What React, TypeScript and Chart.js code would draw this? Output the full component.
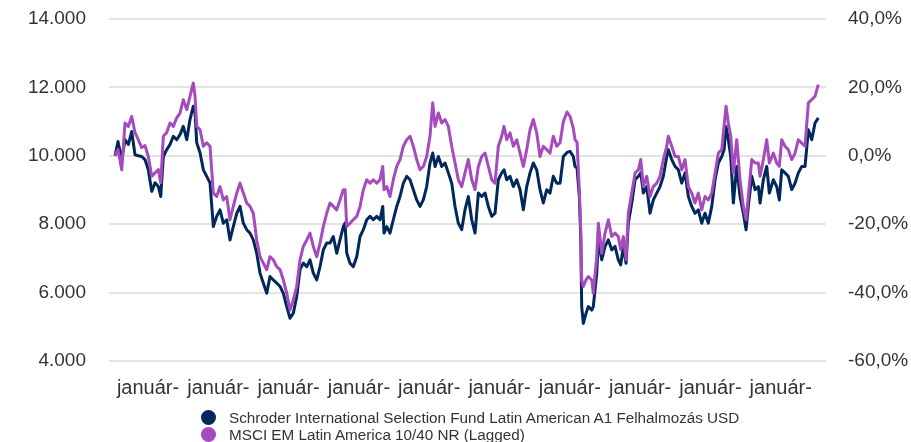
import React, { useEffect, useRef } from 'react';
import { Chart, registerables } from 'chart.js';

Chart.register(...registerables);

// decimal years
const dates = [
  2014.531, 2014.573, 2014.626, 2014.673, 2014.72, 2014.768, 2014.815, 2014.862, 2014.91, 2014.957,
  2015.004, 2015.053, 2015.1, 2015.147, 2015.181, 2015.218, 2015.266, 2015.313, 2015.36, 2015.408,
  2015.455, 2015.502, 2015.551, 2015.597, 2015.644, 2015.669, 2015.693, 2015.74, 2015.787, 2015.835,
  2015.882, 2015.929, 2015.977, 2016.024, 2016.071, 2016.12, 2016.166, 2016.213, 2016.262, 2016.309,
  2016.356, 2016.404, 2016.451, 2016.498, 2016.546, 2016.593, 2016.64, 2016.689, 2016.735, 2016.782,
  2016.831, 2016.878, 2016.925, 2016.973, 2017.02, 2017.067, 2017.115, 2017.162, 2017.209, 2017.258,
  2017.304, 2017.351, 2017.4, 2017.447, 2017.494, 2017.542, 2017.589, 2017.636, 2017.684, 2017.731,
  2017.778, 2017.802, 2017.827, 2017.873, 2017.92, 2017.969, 2018.016, 2018.063, 2018.111, 2018.158,
  2018.205, 2018.253, 2018.3, 2018.339, 2018.357, 2018.396, 2018.442, 2018.489, 2018.538, 2018.585,
  2018.632, 2018.68, 2018.727, 2018.774, 2018.822, 2018.869, 2018.916, 2018.964, 2019.011, 2019.05,
  2019.083, 2019.13, 2019.178, 2019.225, 2019.272, 2019.32, 2019.367, 2019.414, 2019.462, 2019.509,
  2019.556, 2019.605, 2019.652, 2019.699, 2019.747, 2019.794, 2019.841, 2019.889, 2019.936, 2019.983,
  2020.031, 2020.064, 2020.103, 2020.149, 2020.196, 2020.245, 2020.292, 2020.339, 2020.387, 2020.434,
  2020.481, 2020.529, 2020.576, 2020.623, 2020.672, 2020.718, 2020.765, 2020.814, 2020.861, 2020.908,
  2020.96, 2021.003, 2021.05, 2021.074, 2021.103, 2021.135, 2021.155, 2021.169, 2021.192, 2021.231,
  2021.263, 2021.312, 2021.334, 2021.383, 2021.406, 2021.454, 2021.501, 2021.548, 2021.596, 2021.643,
  2021.69, 2021.724, 2021.761, 2021.8, 2021.832, 2021.881, 2021.928, 2021.975, 2022.009, 2022.046,
  2022.094, 2022.141, 2022.188, 2022.236, 2022.283, 2022.33, 2022.379, 2022.401, 2022.45, 2022.497,
  2022.544, 2022.592, 2022.639, 2022.686, 2022.734, 2022.781, 2022.828, 2022.876, 2022.923, 2022.97,
  2023.019, 2023.066, 2023.113, 2023.161, 2023.194, 2023.222, 2023.255, 2023.289, 2023.326, 2023.374,
  2023.421, 2023.468, 2023.507, 2023.539, 2023.588, 2023.635, 2023.682, 2023.706, 2023.753, 2023.801,
  2023.838, 2023.895, 2023.943, 2023.98, 2024.014, 2024.061, 2024.108, 2024.157, 2024.204, 2024.251,
  2024.299, 2024.346, 2024.393, 2024.441, 2024.488, 2024.535,
];

const schroderValues = [
  10000, 10420, 9890, 10470, 10330, 10710, 10030, 10000, 9980, 9890,
  9590, 8960, 9210, 9100, 8810, 9980, 10180, 10330, 10570, 10470,
  10620, 10860, 10470, 11060, 11450, 11250, 10380, 10090, 9590, 9400,
  9210, 7930, 8230, 8420, 8030, 8130, 7540, 7930, 8320, 8520,
  8030, 7840, 7740, 7540, 7150, 6570, 6280, 5980, 6470, 6370,
  6280, 6180, 5980, 5590, 5250, 5400, 5880, 6670, 6860, 6760,
  6960, 6570, 6370, 6760, 7250, 7450, 7450, 7640, 7150, 7540,
  7930, 8030, 7160, 6860, 6760, 7050, 7640, 7840, 8130, 8230,
  8130, 8230, 8130, 8520, 7740, 7930, 7740, 8130, 8520, 8810,
  9200, 9400, 9300, 9010, 8710, 8520, 8710, 9100, 9790, 10080,
  9690, 9980, 9690, 9790, 9500, 9200, 8520, 8030, 7840, 8420,
  8810, 8130, 7740, 8910, 8810, 8910, 8520, 8230, 8320, 9300,
  9500, 9590, 9300, 9400, 9100, 9300, 9010, 8420, 9100, 9500,
  9790, 9590, 9010, 8620, 9010, 8910, 9400, 9200, 9200, 9980,
  10100, 10130, 9980, 9690, 9640, 8810, 7640, 5590, 5100, 5400,
  5590, 5490, 5590, 6570, 7540, 6960, 7350, 7540, 7250, 7350,
  6960, 6810, 7350, 6860, 8030, 8620, 9300, 9400, 9500, 8910,
  9100, 8320, 8710, 8910, 9100, 9400, 9980, 10180, 9890, 9690,
  9590, 9200, 9500, 8810, 8520, 8320, 8420, 8030, 8320, 8030,
  8520, 9300, 9790, 9980, 10180, 10860, 10470, 9980, 8620, 9690,
  8810, 8320, 7840, 8520, 9400, 9010, 9100, 8620, 9300, 9690,
  8910, 9300, 9100, 8710, 9590, 9500, 9400, 9010, 9200, 9500,
  9690, 9690, 10760, 10470, 10960, 11110,
];

const msciValues = [
  10000, 10180, 9590, 10960, 10860, 11150, 10680, 10470, 10240, 10300,
  9980, 9400, 9500, 9600, 9210, 10570, 10680, 10960, 10860, 11110,
  11250, 11640, 11350, 11740, 12130, 11740, 10860, 10760, 10280, 10380,
  10280, 8910, 8810, 9100, 8710, 8810, 8130, 8520, 8910, 9200,
  8910, 8620, 8520, 8320, 7540, 7050, 6860, 6670, 7050, 6960,
  6760, 6670, 6370, 5980, 5490, 5790, 6180, 6960, 7350, 7540,
  7740, 7350, 7050, 7450, 7930, 8320, 8620, 8520, 8420, 8710,
  9010, 9010, 7930, 8030, 8130, 8230, 8520, 9010, 9300, 9200,
  9300, 9200, 9300, 9690, 9010, 9100, 8810, 9300, 9690, 9890,
  10280, 10470, 10570, 10280, 9890, 9590, 9690, 9980, 10570, 11550,
  10860, 11250, 10960, 11060, 10860, 10280, 9790, 9300, 9100, 9500,
  9890, 9300, 9010, 9690, 9980, 10080, 9690, 9300, 9200, 10280,
  10570, 10860, 10470, 10670, 10280, 10470, 10080, 9690, 10180, 10760,
  11060, 10670, 9980, 10280, 10180, 10080, 10570, 10280, 10380, 11000,
  11280, 11150, 10800, 10470, 10400, 9010, 7840, 6370, 6180, 6370,
  6470, 6370, 5980, 7050, 8030, 7150, 7740, 8130, 7640, 7740,
  7640, 7250, 7640, 6960, 8320, 8910, 9500, 9590, 9890, 9100,
  9400, 8810, 9100, 9200, 9400, 9890, 10280, 10570, 10280, 9980,
  9980, 9590, 9890, 9100, 8910, 8620, 8910, 8420, 8810, 8710,
  8910, 9500, 10080, 10180, 10860, 11450, 10960, 10570, 9500, 10470,
  9300, 8520, 8130, 8810, 9890, 9790, 9790, 9400, 9890, 10470,
  9790, 10080, 9790, 9690, 10470, 10280, 10180, 9890, 10080, 10470,
  10370, 10280, 11550, 11640, 11740, 12080,
];

const yearTicks = [2015, 2016, 2017, 2018, 2019, 2020, 2021, 2022, 2023, 2024];
const xTickLabel = 'január-';
const seriesNames = [
  'Schroder International Selection Fund Latin American A1 Felhalmozás USD',
  'MSCI EM Latin America 10/40 NR (Lagged)',
];
const seriesColors = ['#00285a', '#a54bbd'];

const FONT = '"Liberation Sans", Arial, Helvetica, sans-serif';
const TEXT = '#333333';

function fmtThousands(v: number) {
  return String(Math.round(v)).replace(/\B(?=(\d{3})+(?!\d))/g, '.');
}

export default function App() {
  const ref = useRef<HTMLCanvasElement | null>(null);

  useEffect(() => {
    if (!ref.current) return;
    const chart = new Chart(ref.current, {
      type: 'line',
      data: {
        datasets: [
          {
            label: seriesNames[0],
            data: dates.map((d, i) => ({ x: d, y: schroderValues[i] })),
            borderColor: seriesColors[0],
            backgroundColor: seriesColors[0],
            borderWidth: 3,
            pointRadius: 0,
            tension: 0,
            borderJoinStyle: 'round',
            order: 1,
            yAxisID: 'y',
          },
          {
            label: seriesNames[1],
            data: dates.map((d, i) => ({ x: d, y: msciValues[i] })),
            borderColor: seriesColors[1],
            backgroundColor: seriesColors[1],
            borderWidth: 3,
            pointRadius: 0,
            tension: 0,
            borderJoinStyle: 'round',
            order: 0,
            yAxisID: 'y',
          },
        ],
      },
      options: {
        animation: false,
        responsive: true,
        maintainAspectRatio: false,
        layout: { padding: { top: 19, left: 0, right: 0, bottom: 0 } },
        plugins: {
          legend: { display: false },
          tooltip: { enabled: false },
        },
        scales: {
          x: {
            type: 'linear',
            min: 2014.445,
            max: 2024.644,
            grid: { display: false },
            border: { display: false },
            afterBuildTicks: (scale: any) => {
              scale.ticks = yearTicks.map((v) => ({ value: v }));
            },
            afterFit: (scale: any) => {
              scale.height = 81;
              scale.paddingLeft = 0;
              scale.paddingRight = 0;
            },
            ticks: {
              autoSkip: false,
              maxRotation: 0,
              padding: 7,
              color: TEXT,
              font: { family: FONT, size: 20 },
              callback: () => xTickLabel,
            },
          },
          y: {
            position: 'left',
            min: 4000,
            max: 14000,
            grid: { color: '#e3e3e3', lineWidth: 2, drawTicks: false },
            border: { display: false },
            afterFit: (scale: any) => {
              scale.width = 109;
              scale.paddingTop = 0;
              scale.paddingBottom = 0;
            },
            ticks: {
              stepSize: 2000,
              padding: 23,
              color: TEXT,
              font: { family: FONT, size: 19 },
              callback: (v: any) => fmtThousands(Number(v)),
            },
          },
          y1: {
            position: 'right',
            min: -60,
            max: 40,
            grid: { display: false, drawTicks: false },
            border: { display: false },
            afterFit: (scale: any) => {
              scale.width = 85;
              scale.paddingTop = 0;
              scale.paddingBottom = 0;
            },
            ticks: {
              stepSize: 20,
              padding: 22,
              color: TEXT,
              font: { family: FONT, size: 19 },
              callback: (v: any) => Number(v).toFixed(1).replace('.', ',') + '%',
            },
          },
        },
      },
    } as any);
    return () => chart.destroy();
  }, []);

  return (
    <div
      style={{
        position: 'fixed',
        left: 0,
        top: 0,
        width: 911,
        height: 442,
        background: '#ffffff',
        fontFamily: FONT,
        overflow: 'hidden',
      }}
    >
      <div style={{ position: 'absolute', left: 0, top: 0, width: 911, height: 442 }}>
        <canvas ref={ref} />
      </div>
      <div style={{ position: 'absolute', left: 201, top: 409, color: TEXT, fontSize: 15.25, lineHeight: '17px' }}>
        {seriesNames.map((name, i) => (
          <div key={name} style={{ display: 'flex', alignItems: 'center', height: 17, whiteSpace: 'nowrap' }}>
            <span
              style={{
                display: 'inline-block',
                width: 15,
                height: 15,
                borderRadius: '50%',
                background: seriesColors[i],
                marginRight: 13,
                flex: '0 0 auto',
              }}
            />
            <span>{name}</span>
          </div>
        ))}
      </div>
    </div>
  );
}
